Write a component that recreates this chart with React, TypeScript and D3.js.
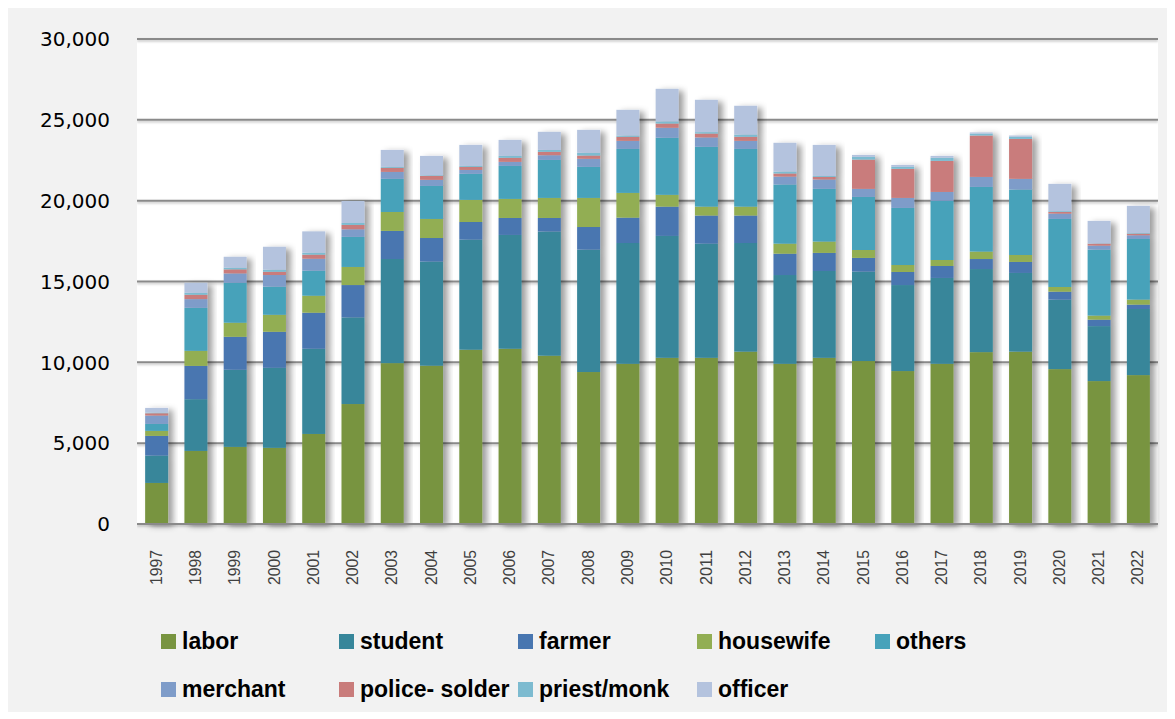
import React from "react";
import * as d3 from "d3";

const years = ["1997","1998","1999","2000","2001","2002","2003","2004","2005","2006","2007","2008","2009","2010","2011","2012","2013","2014","2015","2016","2017","2018","2019","2020","2021","2022"];
const seriesNames = ["labor","student","farmer","housewife","others","merchant","police- solder","priest/monk","officer"];
const seriesColors = ["#789440","#37869A","#4876B0","#92AE53","#47A2BA","#7E9CC9","#C97C7B","#7DBBD0","#B4C3DE"];

const labor =     [2540,4520,4770,4710,5570,7420,9950,9790,10780,10840,10410,9400,9910,10280,10280,10660,9910,10280,10080,9460,9910,10630,10660,9580,8840,9210];
const student =   [1690,3200,4770,4950,5270,5360,6440,6440,6810,7040,7680,7570,7470,7540,7060,6720,5490,5370,5530,5320,5310,5140,4870,4300,3400,4090];
const farmer =    [1220,2060,2040,2230,2230,2000,1740,1460,1090,1050,840,1400,1570,1810,1740,1700,1320,1120,850,810,740,620,680,490,400,270];
const housewife = [310,930,870,1050,1050,1120,1170,1180,1370,1180,1240,1800,1530,730,550,550,620,700,490,430,370,460,430,290,250,310];
const others =    [430,2660,2470,1740,1550,1860,2050,2040,1610,2040,2350,1920,2720,3530,3700,3570,3660,3260,3280,3530,3660,4000,4050,4210,4080,3750];
const merchant =  [520,540,580,720,740,470,430,380,240,250,290,500,500,620,580,500,490,580,500,620,550,620,660,330,250,230];
const police =    [140,270,250,200,250,270,250,240,190,250,210,200,250,260,240,250,190,160,1810,1800,1920,2560,2470,100,120,100];
const priest =    [40,120,100,130,120,120,60,40,60,120,120,170,80,130,90,140,120,60,170,120,190,120,130,50,20,40];
const officer =   [290,620,680,1420,1320,1360,1050,1200,1300,990,1120,1420,1590,2020,2000,1780,1780,1920,120,120,120,70,80,1690,1390,1680];

const yTicks = [0,5000,10000,15000,20000,25000,30000];

const W = 1160, H = 704;
const plot = { left: 129, right: 1150, top: 31, bottom: 516 };

export default function App() {
  const seriesValues = [labor, student, farmer, housewife, others, merchant, police, priest, officer];
  const rows = years.map((y, i) => {
    const r: any = { year: y };
    seriesNames.forEach((s, k) => { r[s] = seriesValues[k][i]; });
    return r;
  });
  const stacked = d3.stack<any>().keys(seriesNames)(rows);

  const x = d3.scaleBand<string>().domain(years).range([plot.left, plot.right]).paddingInner(0.415).paddingOuter(0.2075);
  const y = d3.scaleLinear().domain([0, 30000]).range([plot.bottom, plot.top]);
  const fmt = d3.format(",");

  const legendCols = [153, 331, 510, 689, 867];
  const legendRows = [626, 674];

  return (
    <svg width={W} height={H} style={{ display: "block" }}>
      <defs>
        <filter id="shadow" x="-20%" y="-5%" width="160%" height="115%">
          <feDropShadow dx="5" dy="2" stdDeviation="3" floodColor="#000" floodOpacity="0.38" />
        </filter>
        <filter id="lineShadow" x="0" y="-50%" width="100%" height="300%">
          <feDropShadow dx="0" dy="1.5" stdDeviation="0.8" floodColor="#000" floodOpacity="0.25" />
        </filter>
      </defs>
      <rect x={0} y={0} width={W} height={H} fill="#f2f2f2" />
      <rect x={plot.left} y={plot.top} width={plot.right - plot.left} height={plot.bottom - plot.top} fill="#ffffff" />
      <g filter="url(#lineShadow)">
        {yTicks.map(t => (
          <line key={t} x1={plot.left} x2={plot.right} y1={y(t)} y2={y(t)} stroke="#8a8a8a" strokeWidth={2} />
        ))}
      </g>
      {yTicks.map(t => (
        <text key={"l" + t} x={102} y={y(t)} dy="0.36em" textAnchor="end" fontFamily="DejaVu Sans" fontSize={20} fill="#000">{fmt(t)}</text>
      ))}
      {years.map((yr, i) => (
        <g key={yr} filter="url(#shadow)">
          {stacked.map((s, k) => (
            <rect key={k} x={x(yr)} width={x.bandwidth()} y={y(s[i][1])} height={Math.max(0, y(s[i][0]) - y(s[i][1]))} fill={seriesColors[k]} />
          ))}
        </g>
      ))}
      <line x1={plot.left} x2={plot.right} y1={plot.bottom} y2={plot.bottom} stroke="#8a8a8a" strokeWidth={2} />
      {years.map(yr => {
        const cx = (x(yr) as number) + x.bandwidth() / 2 - 1;
        return (
          <text key={"t" + yr} transform={`translate(${cx},542) rotate(-90)`} dy="0.36em" textAnchor="end"
            fontFamily="Liberation Sans" fontSize={17} fill="#404040" textLength={35} lengthAdjust="spacingAndGlyphs">{yr}</text>
        );
      })}
      {seriesNames.map((s, k) => {
        const col = k < 5 ? k : k - 5;
        const row = k < 5 ? 0 : 1;
        const lx = legendCols[col];
        const ly = legendRows[row];
        return (
          <g key={"lg" + s}>
            <rect x={lx} y={ly} width={15} height={15} fill={seriesColors[k]} />
            <text x={lx + 21} y={ly + 15} fontFamily="Liberation Sans" fontWeight="bold" fontSize={23} fill="#000">{s}</text>
          </g>
        );
      })}
    </svg>
  );
}
